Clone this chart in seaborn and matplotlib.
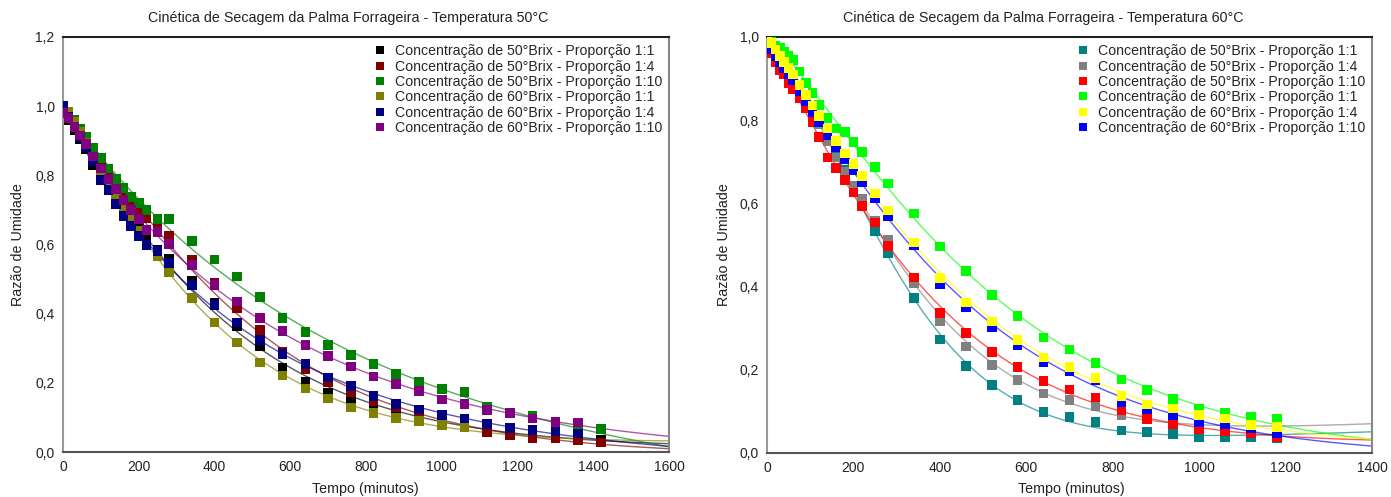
import numpy as np
import pandas as pd
import matplotlib
matplotlib.use('Agg')
import matplotlib.pyplot as plt
import seaborn as sns

# tempos (min) de cada ensaio
tempo_50 = [0, 15, 30, 45, 60, 80, 100, 120, 140, 160, 180, 200, 220, 250, 280,
            340, 400, 460, 520, 580, 640, 700, 760, 820, 880, 940, 1000, 1060,
            1120, 1180, 1240, 1300, 1360, 1420]
tempo_60 = [0, 10, 20, 30, 40, 50, 60, 75, 90, 105, 120, 140, 160, 180, 200, 220,
            250, 280, 340, 400, 460, 520, 580, 640, 700, 760, 820, 880, 940, 1000,
            1060, 1120, 1180]

legendas = ['Concentração de 50°Brix - Proporção 1:1',
            'Concentração de 50°Brix - Proporção 1:4',
            'Concentração de 50°Brix - Proporção 1:10',
            'Concentração de 60°Brix - Proporção 1:1',
            'Concentração de 60°Brix - Proporção 1:4',
            'Concentração de 60°Brix - Proporção 1:10']

# razao de umidade - temperatura 50 C
t50_b50_11 = [1.00, 0.96, 0.93, 0.905, 0.875, 0.83, 0.79, 0.76, 0.73, 0.705, 0.676, 0.647, 0.623, 0.585, 0.560,
              0.495, 0.432, 0.365, 0.305, 0.242, 0.202, 0.170, 0.147, 0.127, 0.114, 0.102, 0.093, 0.083,
              0.069, 0.059, 0.049, 0.044, 0.036, 0.036]
t50_b50_14 = [1.00, 0.98, 0.955, 0.93, 0.905, 0.87, 0.84, 0.81, 0.78, 0.75, 0.725, 0.70, 0.675, 0.655, 0.625,
              0.557, 0.49, 0.417, 0.353, 0.29, 0.239, 0.203, 0.174, 0.147, 0.131, 0.112, 0.093, 0.078,
              0.057, 0.049, 0.041, 0.040, 0.035, 0.028]
t50_b50_110 = [1.00, 0.98, 0.96, 0.935, 0.91, 0.88, 0.85, 0.82, 0.79, 0.763, 0.738, 0.72, 0.70, 0.674, 0.674,
               0.611, 0.557, 0.507, 0.448, 0.388, 0.347, 0.309, 0.280, 0.254, 0.226, 0.203, 0.183, 0.173,
               0.131, 0.112, 0.105, 0.085, 0.066, 0.066]
t50_b60_11 = [1.00, 0.985, 0.955, 0.925, 0.895, 0.855, 0.81, 0.775, 0.735, 0.705, 0.67, 0.64, 0.60, 0.565, 0.52,
              0.446, 0.375, 0.317, 0.259, 0.221, 0.184, 0.155, 0.129, 0.112, 0.099, 0.090, 0.078, 0.073]
t50_b60_14 = [1.00, 0.97, 0.94, 0.91, 0.88, 0.84, 0.787, 0.757, 0.717, 0.682, 0.653, 0.625, 0.599, 0.582, 0.546,
              0.483, 0.425, 0.374, 0.324, 0.283, 0.254, 0.215, 0.191, 0.162, 0.139, 0.123, 0.107, 0.097,
              0.081, 0.070, 0.064, 0.059, 0.054]
t50_b60_110 = [0.98, 0.965, 0.94, 0.915, 0.89, 0.855, 0.82, 0.79, 0.76, 0.729, 0.70, 0.673, 0.642, 0.637, 0.601,
               0.541, 0.483, 0.435, 0.388, 0.350, 0.309, 0.277, 0.247, 0.218, 0.196, 0.176, 0.152, 0.138,
               0.121, 0.112, 0.097, 0.087, 0.085]

# razao de umidade - temperatura 60 C
t60_b50_11 = [1.0, 0.985, 0.97, 0.955, 0.94, 0.925, 0.91, 0.885, 0.86, 0.83, 0.80, 0.76, 0.72, 0.68, 0.64, 0.60,
              0.532, 0.481, 0.372, 0.273, 0.209, 0.164, 0.127, 0.099, 0.086, 0.075, 0.054, 0.050, 0.046,
              0.039, 0.038, 0.037, 0.035]
t60_b50_14 = [1.0, 0.98, 0.965, 0.95, 0.935, 0.92, 0.905, 0.88, 0.85, 0.82, 0.79, 0.75, 0.71, 0.676, 0.642, 0.610,
              0.558, 0.512, 0.409, 0.316, 0.256, 0.211, 0.175, 0.143, 0.127, 0.113, 0.091, 0.086, 0.075,
              0.070, 0.065, 0.060, 0.055]
t60_b50_110 = [0.98, 0.96, 0.94, 0.92, 0.91, 0.89, 0.875, 0.853, 0.83, 0.795, 0.76, 0.71, 0.685, 0.656, 0.626, 0.594,
               0.554, 0.498, 0.422, 0.336, 0.288, 0.243, 0.206, 0.173, 0.153, 0.133, 0.103, 0.081, 0.069,
               0.057, 0.053, 0.047, 0.038]
t60_b60_11 = [1.0, 0.99, 0.98, 0.975, 0.965, 0.955, 0.945, 0.917, 0.89, 0.866, 0.837, 0.806, 0.78, 0.772, 0.748, 0.723,
              0.687, 0.648, 0.576, 0.496, 0.4375, 0.380, 0.329, 0.278, 0.249, 0.217, 0.177, 0.151, 0.130,
              0.107, 0.097, 0.086, 0.082]
t60_b60_14 = [1.0, 0.985, 0.97, 0.955, 0.94, 0.925, 0.91, 0.885, 0.86, 0.835, 0.81, 0.78, 0.75, 0.720, 0.695, 0.666,
              0.624, 0.583, 0.506, 0.420, 0.362, 0.316, 0.272, 0.230, 0.207, 0.181, 0.137, 0.117, 0.107,
              0.091, 0.083, 0.067, 0.063]
t60_b60_110 = [0.99, 0.97, 0.955, 0.94, 0.925, 0.91, 0.895, 0.87, 0.845, 0.82, 0.795, 0.765, 0.735, 0.707, 0.680, 0.651,
               0.612, 0.570, 0.500, 0.406, 0.350, 0.302, 0.260, 0.219, 0.197, 0.175, 0.123, 0.105, 0.091,
               0.075, 0.070, 0.060, 0.047]

cores_50 = ['#000000', '#800000', '#008000', '#808000', '#000080', '#800080']
cores_60 = ['#008080', '#808080', '#ff0000', '#00ff00', '#ffff00', '#0000ff']

yticks_50 = ['0,0', '0,2', '0,4', '0,6', '0,8', '1,0', '1,2']
yticks_60 = ['0,0', '0,2', '0,4', '0,6', '0,8', '1,0']
xticks_50 = ['0', '200', '400', '600', '800', '1000', '1200', '1400', '1600']
xticks_60 = ['0', '200', '400', '600', '800', '1000', '1200', '1400']


def ajuste_midilli(t, mr):
    # MR = a*exp(-k t^n) + b t  (busca em grade para k, n; a, b por minimos quadrados)
    t = np.asarray(t, float)
    y = np.asarray(mr, float)
    melhor = (np.inf, None)
    ks = np.logspace(-6, -0.5, 300)
    for n in np.linspace(0.5, 2.0, 76):
        E = np.exp(-ks[:, None] * t[None, :] ** n)
        See = (E * E).sum(1)
        Set = (E * t).sum(1)
        Stt = (t * t).sum()
        Sey = (E * y).sum(1)
        Sty = (t * y).sum()
        det = See * Stt - Set ** 2
        a = (Sey * Stt - Set * Sty) / det
        b = (See * Sty - Set * Sey) / det
        sse = ((a[:, None] * E + b[:, None] * t - y) ** 2).sum(1)
        i = np.nanargmin(sse)
        if sse[i] < melhor[0]:
            melhor = (sse[i], (a[i], ks[i], n, b[i]))
    a, k, n, b = melhor[1]
    return lambda x: a * np.exp(-k * x ** n) + b * x


def monta_df(tempo, series):
    linhas = []
    for nome, vals in zip(legendas, series):
        for t, v in zip(tempo, vals):
            linhas.append({'Tempo': t, 'MR': v, 'Serie': nome})
    return pd.DataFrame(linhas)


def painel(ax, tempo, series, cores, xmax, ymax, xt, yt, ordem):
    pal = dict(zip(legendas, cores))
    tt = np.linspace(0, xmax, 500)
    for nome, vals in zip(legendas, series):
        f = ajuste_midilli(tempo[:len(vals)], vals)
        ax.plot(tt, f(tt), color=pal[nome], lw=1.0, alpha=0.65, zorder=2)
    df = monta_df(tempo, series)
    # ordem de desenho dos pontos (o ultimo fica por cima)
    df['ord'] = df['Serie'].map({legendas[i]: j for j, i in enumerate(ordem)})
    df = df.sort_values('ord', kind='stable')
    sns.scatterplot(data=df, x='Tempo', y='MR', hue='Serie', hue_order=legendas, palette=pal,
                    marker='s', s=48, linewidth=0, ax=ax, zorder=3)
    handles = ax.get_legend().legend_handles
    ax.legend(handles, legendas, loc='upper right', bbox_to_anchor=(1.0, 1.0), frameon=False,
              fontsize=10.2, handlelength=0.7, handletextpad=0.7, labelspacing=0.1,
              borderaxespad=0.1, markerscale=0.85)
    ax.set_xlim(0, xmax)
    ax.set_ylim(0, ymax)
    ax.set_xticks(np.linspace(0, xmax, len(xt)))
    ax.set_xticklabels(xt)
    ax.set_yticks(np.linspace(0, ymax, len(yt)))
    ax.set_yticklabels(yt)
    ax.tick_params(length=0, labelsize=10, pad=6, colors='#222222')
    ax.set_xlabel('')
    ax.set_ylabel('')
    ax.spines['top'].set_color('#222222')
    ax.spines['bottom'].set_color('#555555')
    ax.spines['left'].set_color('#999999')
    ax.spines['right'].set_color('#888888')
    for s in ax.spines.values():
        s.set_linewidth(1.5)
        s.set_visible(True)
    ax.grid(False)


sns.set_theme(style='white')
plt.rcParams['font.family'] = ['Liberation Sans', 'DejaVu Sans']

fig = plt.figure(figsize=(13.91, 4.97), dpi=100)
W, H = 1391, 497
ax1 = fig.add_axes([63 / W, 1 - 452 / H, 606 / W, 415 / H])
ax2 = fig.add_axes([767 / W, 1 - 453 / H, 605 / W, 416 / H])

painel(ax1, tempo_50, [t50_b50_11, t50_b50_14, t50_b50_110, t50_b60_11, t50_b60_14, t50_b60_110],
       cores_50, 1600, 1.2, xticks_50, yticks_50, [0, 1, 2, 3, 4, 5])
painel(ax2, tempo_60, [t60_b50_11, t60_b50_14, t60_b50_110, t60_b60_11, t60_b60_14, t60_b60_110],
       cores_60, 1400, 1.0, xticks_60, yticks_60, [0, 1, 2, 3, 5, 4])

fig.text(0.25, 1 - 18 / H, 'Cinética de Secagem da Palma Forrageira - Temperatura 50°C',
         ha='center', va='center', fontsize=10.3, color='#222222')
fig.text(0.75, 1 - 18 / H, 'Cinética de Secagem da Palma Forrageira - Temperatura 60°C',
         ha='center', va='center', fontsize=10.3, color='#222222')
fig.text(18 / W, 1 - 245 / H, 'Razão de Umidade', rotation=90, ha='center', va='center',
         fontsize=10.3, color='#222222')
fig.text(724 / W, 1 - 245 / H, 'Razão de Umidade', rotation=90, ha='center', va='center',
         fontsize=10.3, color='#222222')
fig.text(365 / W, 1 - 489 / H, 'Tempo (minutos)', ha='center', va='center', fontsize=10.3,
         color='#222222')
fig.text(1071 / W, 1 - 489 / H, 'Tempo (minutos)', ha='center', va='center', fontsize=10.3,
         color='#222222')

fig.savefig('out.png', dpi=100)
